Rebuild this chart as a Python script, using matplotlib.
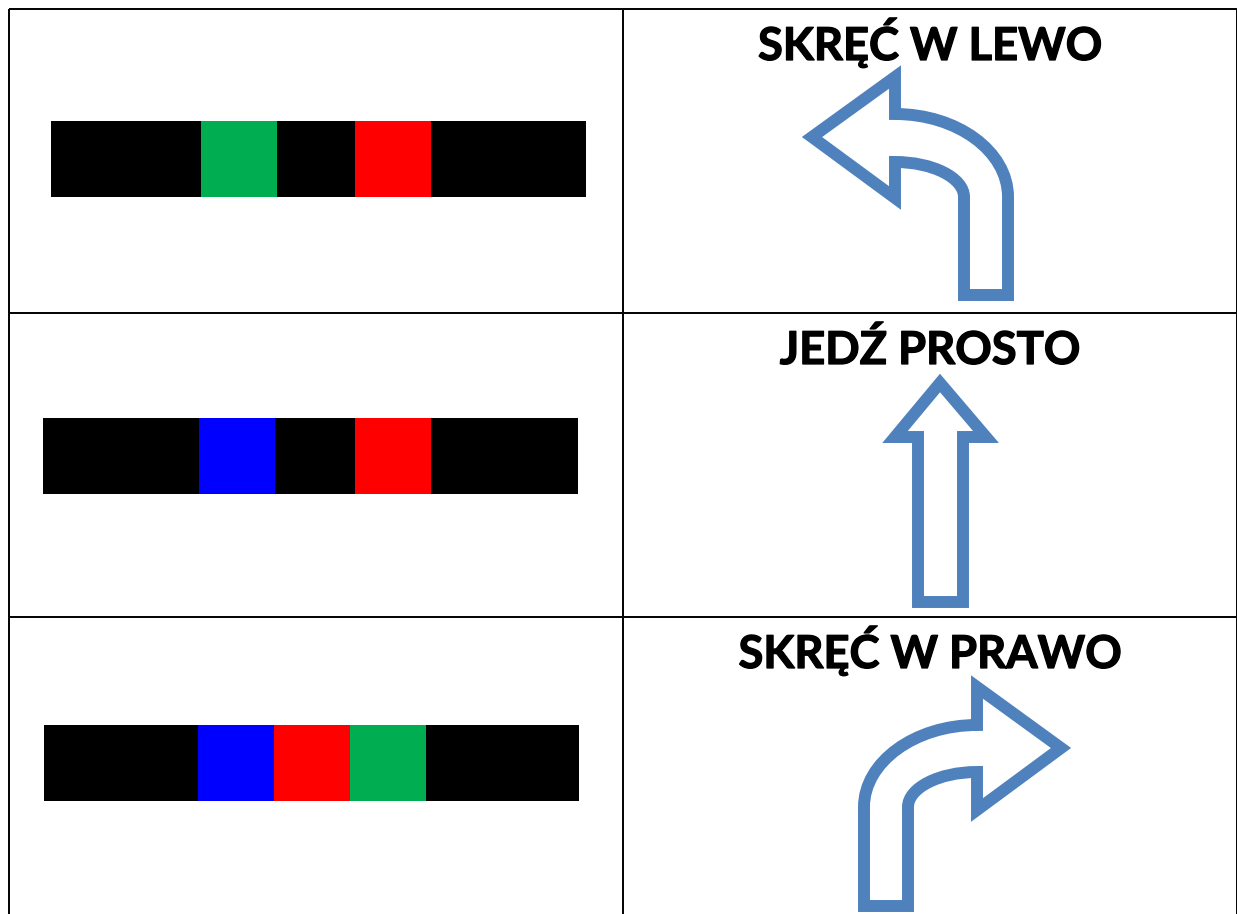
import matplotlib.pyplot as plt
import matplotlib.patheffects as pe
from matplotlib.path import Path
from matplotlib.patches import PathPatch

# Napisy w prawej kolumnie
etykiety = ["SKRĘĆ W LEWO", "JEDŹ PROSTO", "SKRĘĆ W PRAWO"]
etykiety_x = [930, 930, 930]
etykiety_y = [60, 364, 668]

# Paski z kolorami, kazdy wiersz to kolejne segmenty
paski_start = [51, 43, 44]
paski_gora = [121, 418, 725]
paski_wys = 76
segmenty = [
    [150, 76, 78, 76, 155],
    [156, 76, 80, 76, 147],
    [154, 76, 76, 76, 153],
]
kolory = [
    ["black", "#00AD50", "black", "#FF0000", "black"],
    ["black", "#0000FF", "black", "#FF0000", "black"],
    ["black", "#0000FF", "#FF0000", "#00AD50", "black"],
]

# Linie tabeli
linie_poziome = [9, 313, 617]
linie_pionowe = [9, 623, 1237]

# Strzalki (linia srodkowa obrysu, w pikselach obrazka)
M, L, C, Z = Path.MOVETO, Path.LINETO, Path.CURVE4, Path.CLOSEPOLY
strzalka_lewo = [(812, 137), (895, 77), (895, 114), (957, 114), (1008, 151), (1008, 197),
                 (1008, 295), (964, 295), (964, 197), (964, 178), (933, 162), (895, 162),
                 (895, 198), (812, 137)]
kody_lewo = [M, L, L, C, C, C, L, L, L, C, C, C, L, Z]
strzalka_prawo = [(1061, 748), (977, 687), (977, 725), (915, 725), (864, 762), (864, 807),
                  (864, 906), (908, 906), (908, 807), (908, 788), (939, 772), (977, 772),
                  (977, 810), (1061, 748)]
kody_prawo = kody_lewo
strzalka_prosto = [(940, 383), (986, 437), (963, 437), (963, 602), (918, 602), (918, 437),
                   (895, 437), (940, 383)]
kody_prosto = [M, L, L, L, L, L, L, Z]

fig = plt.figure(figsize=(12.37, 9.14), dpi=100)
ax = fig.add_axes([0, 0, 1, 1])
ax.set_xlim(0, 1237)
ax.set_ylim(914, 0)
ax.axis("off")

for y in linie_poziome:
    ax.plot([9, 1237], [y, y], color="black", lw=1.4, solid_capstyle="butt", clip_on=False)
for x in linie_pionowe:
    ax.plot([x, x], [9, 914], color="black", lw=1.4, solid_capstyle="butt", clip_on=False)

# Paski
for start, gora, seg, kol in zip(paski_start, paski_gora, segmenty, kolory):
    lewy = start
    for szer, k in zip(seg, kol):
        ax.barh(gora + paski_wys / 2, szer, height=paski_wys, left=lewy, color=k, linewidth=0)
        lewy += szer

# Strzalki
for pkt, kody in [(strzalka_lewo, kody_lewo), (strzalka_prosto, kody_prosto), (strzalka_prawo, kody_prawo)]:
    ax.add_patch(PathPatch(Path(pkt, kody), facecolor="white", edgecolor="#4F81BD",
                           linewidth=8.6, joinstyle="miter"))

# Napisy, lekki obrys bo Lato jest cienszy niz oryginal
for tekst, x, y in zip(etykiety, etykiety_x, etykiety_y):
    ax.text(x, y, tekst, fontsize=32.6, fontweight="bold", family=["Lato", "Open Sans", "DejaVu Sans"],
            ha="center", va="baseline", color="black",
            path_effects=[pe.withStroke(linewidth=0.9, foreground="black")])

fig.savefig("out.png", dpi=100)
